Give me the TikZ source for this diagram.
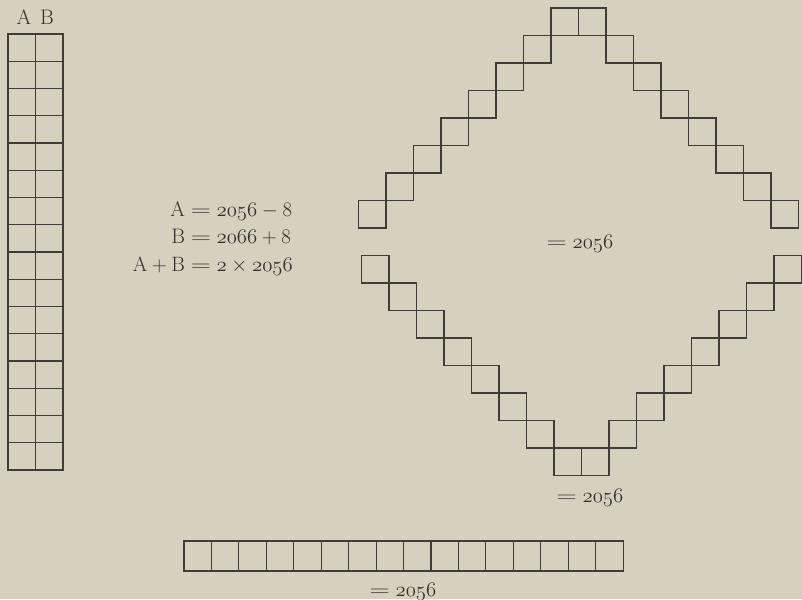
\documentclass[tikz,border=0pt]{standalone}
\usepackage{graphicx}
\usetikzlibrary{positioning}
\definecolor{paper}{RGB}{214,208,190}
\definecolor{ink}{RGB}{66,60,54}
\definecolor{type}{RGB}{52,47,42}
\newcommand\weq{\mathrel{\scalebox{1.35}[1]{$=$}}}

\begin{document}
\begin{tikzpicture}[x=1pt, y=-1pt,
    sq/.style={draw=ink, line width=1.1pt},
    lbl/.style={text=type, font=\fontsize{21}{27.5}\selectfont, inner sep=0pt}
  ]
    \fill[paper] (0,0) rectangle (802,599);
    \useasboundingbox (0,0) rectangle (802,599);
    % the column A B
    \foreach \r in {0,...,15} {
      \draw[sq] (8,34+27.25*\r) rectangle ++(27.5,27.25);
      \draw[sq] (35.5,34+27.25*\r) rectangle ++(27.5,27.25);
    }
    \node[lbl, anchor=base] (colA) at (24,25) {A};
    \node[lbl, anchor=base] (colB) at (47,25) {B};
    % upper half of the ring
    \foreach \k in {0,...,7} {
      \draw[sq] (551-27.5*\k,8+27.5*\k) rectangle ++(27.5,27.5);
      \draw[sq] (578.5+27.5*\k,8+27.5*\k) rectangle ++(27.5,27.5);
    }
    % lower half of the ring
    \foreach \j in {0,...,7} {
      \draw[sq] (361.5+27.5*\j,255.5+27.5*\j) rectangle ++(27.5,27.5);
      \draw[sq] (774-27.5*\j,255.5+27.5*\j) rectangle ++(27.5,27.5);
    }
    % the row
    \foreach \c in {0,...,15}
      \draw[sq] (184+27.44*\c,541) rectangle ++(27.44,30);
    \node[lbl, anchor=east] (eqs) at (293,238) {%
      \begin{tabular}{@{}r@{}l@{}}
        A & ${}\weq\oldstylenums{2056}-8$\\
        B & ${}\weq\oldstylenums{2066}+8$\\
        $\mathrm{A}+\mathrm{B}$ & ${}\weq\oldstylenums{2}\times\oldstylenums{2056}$
      \end{tabular}};
    \node[lbl, anchor=base] (inner) at (580,248) {$\weq\oldstylenums{2056}$};
    \node[lbl, anchor=base] (ring) at (590,502) {$\weq\oldstylenums{2056}$};
    \node[lbl, anchor=base] (row) at (403,596) {$\weq\oldstylenums{2056}$};
\end{tikzpicture}
\end{document}
